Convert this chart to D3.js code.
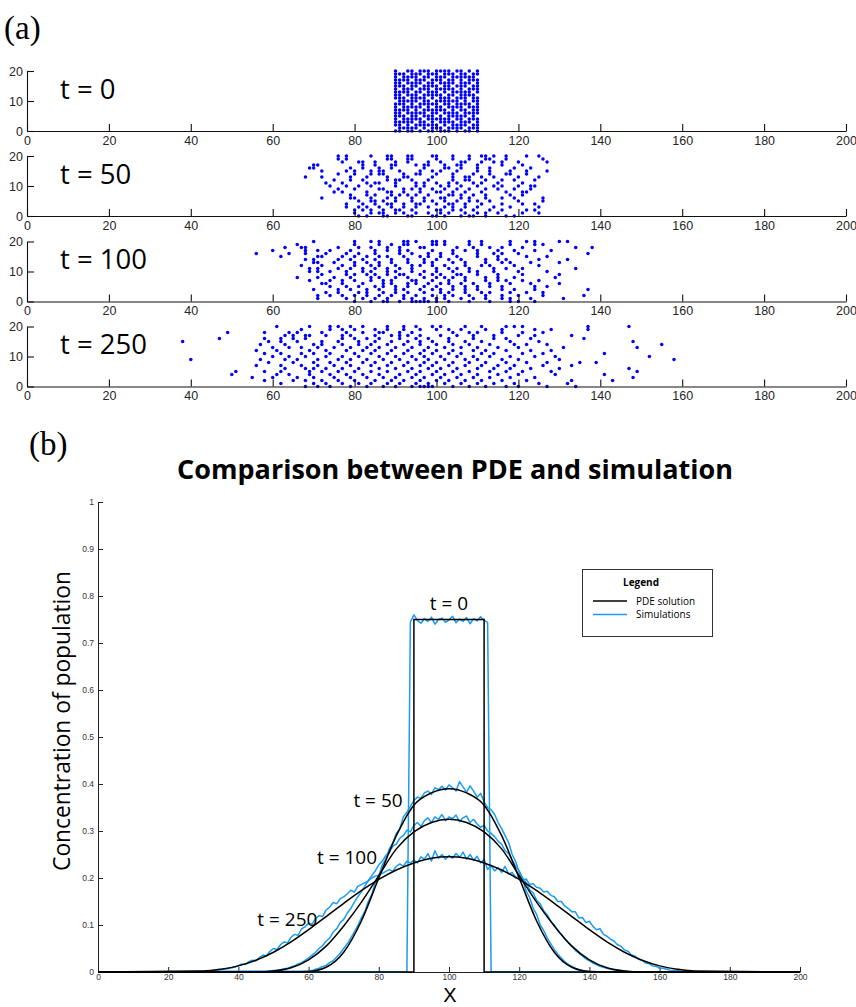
<!DOCTYPE html>
<html><head><meta charset="utf-8">
<script src="https://cdn.jsdelivr.net/npm/d3@7"></script>
<style>body{margin:0;background:#fff} svg{display:block}</style>
</head><body>
<svg id="c" width="856" height="1007"></svg>
<script>
// ---------------- DATA ----------------
const xDomain = [0, 200];
const xTicks = [0, 20, 40, 60, 80, 100, 120, 140, 160, 180, 200];
const yDomainA = [0, 20];
const yTicksA = [0, 10, 20];
const timeLabels = ["t = 0", "t = 50", "t = 100", "t = 250"];

// t = 0 : occupancy of lattice sites x = 90..110, rows listed from y = 20 down to y = 0
const gridStartX = 90;
const dotsT0 = [
  "100110111011110110101","111011101110111011011","101111011011101111110",
  "111101110111011010111","110111101101111011101","111011011110110111011",
  "101110111011111010111","111101101110101111101","110111011111011011110",
  "111011110101110111011","011111011011111101011","111010111110110111101",
  "101111101011011110111","111101011111101011011","110111110110111101111",
  "111011011101011111010","101111101111110110111","111110110101111011101",
  "110101111110101111011","011111010111011110111","110110101101110101101"
];
// t = 50, 100, 250 : x positions of occupied sites, rows from y = 20 down to y = 0
const dotsT50 = [
  [76,78,84,88,89,93,94,99,100,104,108,111,112,114,117,122,125],
  [76,78,88,89,93,94,100,104,108,112,113,117,126],
  [77,81,82,85,90,93,98,101,106,107,111,114,116,120,127],
  [70,71,82,85,89,90,95,97,98,102,105,106,110,116,121],
  [69,70,79,82,86,89,97,102,103,106,110,113,119,123],
  [72,78,80,84,86,87,91,96,99,101,105,110,113,118,122,127],
  [76,80,84,86,87,92,95,96,100,104,109,113,117,118,122],
  [68,72,79,83,88,92,93,99,104,107,108,111,114,120,125],
  [75,79,82,88,90,91,94,98,104,107,108,112,116,119,124],
  [73,77,83,85,86,90,95,97,100,103,105,109,111,115,121],
  [74,78,81,84,90,95,97,101,103,106,110,114,116,120,123,124],
  [76,80,86,87,92,94,96,99,102,105,108,112,115,119,123],
  [75,77,83,88,89,92,96,100,101,104,107,111,117,121,122],
  [79,83,85,89,91,93,95,98,103,104,106,109,112,118,121],
  [72,79,80,84,88,90,94,97,101,102,106,108,112,116,119,126],
  [81,84,85,87,90,94,97,99,102,105,108,110,113,120,126],
  [78,82,85,88,89,92,95,96,100,103,104,107,111,116,121,124],
  [78,81,83,86,89,92,95,98,102,104,107,110,114,118,125],
  [80,82,84,87,90,91,94,100,101,104,106,109,113,116,122,124],
  [80,84,86,87,90,92,95,98,101,103,107,110,112,115,121,125],
  [81,83,87,88,93,94,99,100,102,106,108,109,112,117,119]
];
const dotsT100 = [
  [70,80,84,86,92,93,95,99,100,102,108,111,118,122,124,130,132],
  [66,80,86,89,92,93,99,100,102,108,111,118,124,126],
  [63,67,68,76,81,84,88,91,96,97,105,109,113,116,121,134,138],
  [60,68,71,74,79,85,88,91,93,99,104,107,110,115,119,124,128],
  [56,64,68,73,78,81,85,91,94,98,101,104,110,114,116,120,137],
  [62,71,72,77,80,83,86,88,92,96,98,101,105,110,115,122,127],
  [68,70,76,79,82,85,89,93,97,100,103,106,112,115,117,125,132],
  [70,71,75,80,83,86,89,93,97,99,104,107,112,116,118,123,130],
  [67,72,77,80,84,86,90,94,96,99,102,107,111,113,119,125],
  [69,71,76,79,82,85,88,91,94,100,103,105,108,114,117,121,134],
  [69,71,74,78,82,84,88,90,94,97,100,104,108,110,114,120,127],
  [72,78,80,83,85,88,91,92,96,99,101,105,106,110,115,121,130],
  [66,71,75,79,84,86,90,93,97,100,102,104,107,112,115,119,129],
  [69,74,77,80,84,87,89,94,95,99,103,107,112,115,117,121,125],
  [72,73,77,82,87,89,93,95,98,101,103,106,109,113,118,123,130],
  [74,78,81,85,87,90,93,97,100,104,107,110,113,116,124,127],
  [70,76,79,83,86,90,92,96,99,101,104,107,110,116,119,124,137],
  [73,76,81,83,87,90,93,97,101,103,107,111,113,118,122,126],
  [71,74,77,80,83,86,89,92,95,99,102,104,108,112,116,120,126,136],
  [71,78,82,85,88,92,94,97,100,102,106,109,112,116,118,123,131],
  [80,84,87,88,91,94,95,96,97,98,100,103,108,113,118,120,124]
];
const dotsT250 = [
  [61,69,74,76,79,82,88,92,95,99,101,107,111,117,119,121,137,147],
  [67,74,77,80,85,88,92,96,100,103,106,112,116,124,128,137],
  [49,58,64,66,72,78,82,86,87,91,94,104,108,110,116,121,126],
  [63,65,68,69,73,77,79,85,89,91,93,96,101,105,109,114,120,124,133],
  [47,58,62,65,68,77,80,83,86,91,95,98,103,109,114,117,123,136],
  [38,59,62,66,72,76,81,85,89,93,96,99,103,107,111,118,125,148],
  [57,63,70,72,77,81,84,88,92,96,100,104,108,113,119,122,127,155],
  [60,64,67,71,75,79,83,86,90,94,98,102,106,110,115,120,131,149],
  [56,61,69,73,78,82,85,89,93,97,100,104,109,112,117,123,128],
  [58,62,67,70,74,80,84,88,92,96,99,103,106,111,114,121,126,141],
  [60,64,68,73,77,81,86,90,94,97,101,105,109,113,118,124,129,152],
  [40,57,63,66,71,76,79,83,87,91,95,98,102,107,110,116,120,130,158],
  [59,65,70,74,78,82,85,89,93,97,100,104,108,112,117,122,127,135,139],
  [56,62,67,71,75,79,84,88,92,96,99,103,107,111,115,119,126,133],
  [63,68,70,73,77,81,86,90,94,98,101,105,110,114,118,123,130,147],
  [51,58,62,69,72,76,80,84,88,93,96,100,104,108,113,117,121,128,149],
  [50,61,64,69,74,78,82,86,91,95,99,102,106,110,115,120,129,141],
  [55,60,66,70,75,79,83,87,90,94,97,101,105,109,113,118,124,148],
  [58,65,68,72,76,80,85,89,92,96,100,103,107,111,116,122,133,143],
  [62,70,73,77,81,84,88,91,95,98,102,106,110,114,119,125,132],
  [68,71,74,79,83,87,90,94,96,97,98,99,104,108,112,117,120,127,134]
];

// Panel (b)
const yDomainB = [0, 1];
const yTicksB = [0, 0.1, 0.2, 0.3, 0.4, 0.5, 0.6, 0.7, 0.8, 0.9, 1];
const seriesNames = ["PDE solution", "Simulations"];
const bTitle = "Comparison between PDE and simulation";
const bYLabel = "Concentration of population";
const bXLabel = "X";

// PDE solution, t = 0 (box)
const pde0X = [0, 90, 90, 110, 110, 200];
const pde0Y = [0, 0, 0.75, 0.75, 0, 0];
// PDE solutions t = 50, 100, 250 sampled at pdeX
const pdeX = [0,30,35,40,45,50,55,60,65,70,75,80,85,90,95,100,105,110,115,120,125,130,135,140,145,150,155,160,165,170,200];
const pde50 = [0,0,0,0,0,0,0,0.001,0.010,0.042,0.108,0.200,0.290,0.355,0.381,0.390,0.381,0.355,0.290,0.200,0.108,0.042,0.010,0.001,0,0,0,0,0,0,0];
const pde100 = [0,0,0,0,0,0.002,0.009,0.026,0.055,0.098,0.148,0.205,0.262,0.298,0.318,0.325,0.318,0.298,0.262,0.205,0.148,0.098,0.055,0.026,0.009,0.002,0,0,0,0,0];
const pde250 = [0,0.002,0.006,0.013,0.025,0.042,0.064,0.090,0.118,0.146,0.173,0.197,0.217,0.232,0.242,0.245,0.242,0.232,0.217,0.197,0.173,0.146,0.118,0.090,0.064,0.042,0.025,0.013,0.006,0.002,0];

// Simulations (averaged), one value per integer x starting at simStart; zero elsewhere
const sim0Start = 88;
const sim0 = [0,0.745,0.760,0.748,0.742,0.752,0.746,0.755,0.740,0.750,0.753,0.744,0.749,0.757,0.743,0.751,0.746,0.754,0.741,0.752,0.747,0.756,0.748,0.744,0];
const sim50Start = 60;
const sim50 = [0.002,0.003,0.006,0.008,0.012,0.014,0.020,0.024,0.032,0.040,
  0.050,0.060,0.072,0.085,0.098,0.115,0.128,0.150,0.165,0.190,
  0.205,0.228,0.240,0.262,0.275,0.295,0.305,0.330,0.340,0.352,
  0.365,0.372,0.370,0.381,0.385,0.378,0.392,0.388,0.395,0.387,
  0.398,0.392,0.385,0.405,0.394,0.382,0.396,0.385,0.372,0.380,
  0.362,0.350,0.345,0.335,0.318,0.305,0.290,0.275,0.250,0.235,
  0.212,0.195,0.172,0.158,0.135,0.122,0.100,0.088,0.072,0.060,
  0.048,0.038,0.030,0.022,0.016,0.012,0.008,0.005,0.003,0.002,0.001];
const sim100Start = 48;
const sim100 = [0.001,0.002,0.003,0.004,0.005,0.007,0.008,0.011,0.013,0.017,
  0.020,0.025,0.030,0.036,0.042,0.050,0.056,0.066,0.072,0.085,
  0.092,0.105,0.112,0.125,0.135,0.148,0.160,0.170,0.182,0.195,
  0.205,0.215,0.228,0.236,0.248,0.255,0.268,0.272,0.285,0.290,
  0.302,0.298,0.312,0.318,0.310,0.322,0.328,0.318,0.330,0.325,
  0.335,0.322,0.330,0.326,0.334,0.320,0.328,0.332,0.318,0.325,
  0.315,0.308,0.312,0.300,0.295,0.288,0.278,0.272,0.258,0.252,
  0.238,0.225,0.215,0.200,0.190,0.175,0.168,0.152,0.145,0.130,
  0.122,0.108,0.100,0.088,0.080,0.070,0.062,0.055,0.046,0.040,
  0.034,0.028,0.024,0.019,0.016,0.012,0.010,0.008,0.006,0.005,
  0.004,0.003,0.002,0.001,0.000];
const sim250Start = 30;
const sim250 = [0.001,0.001,0.002,0.003,0.003,0.005,0.006,0.007,0.009,0.010,
  0.014,0.017,0.016,0.022,0.025,0.024,0.031,0.036,0.034,0.044,
  0.050,0.048,0.058,0.064,0.062,0.074,0.080,0.078,0.092,0.096,
  0.104,0.102,0.114,0.120,0.118,0.132,0.138,0.148,0.145,0.156,
  0.160,0.166,0.174,0.170,0.182,0.186,0.190,0.193,0.200,0.204,
  0.206,0.210,0.214,0.218,0.214,0.225,0.230,0.225,0.236,0.232,
  0.238,0.232,0.245,0.240,0.252,0.236,0.258,0.242,0.250,0.240,
  0.248,0.242,0.252,0.244,0.255,0.240,0.250,0.238,0.246,0.232,
  0.240,0.218,0.226,0.215,0.222,0.212,0.225,0.208,0.212,0.200,
  0.205,0.195,0.198,0.186,0.188,0.180,0.178,0.170,0.172,0.163,
  0.160,0.150,0.150,0.140,0.135,0.128,0.128,0.115,0.116,0.105,
  0.108,0.097,0.090,0.092,0.080,0.076,0.070,0.066,0.058,0.055,
  0.047,0.044,0.036,0.034,0.027,0.025,0.019,0.018,0.013,0.012,
  0.008,0.008,0.006,0.004,0.003,0.003,0.002,0.001,0.001,0.000,0.000];

// ---------------- DRAW ----------------
const svg = d3.select("#c");

function fitFont(sel, target, start) {
  sel.style("font-size", start + "px");
  const w = sel.node().getComputedTextLength();
  sel.style("font-size", (start * target / w) + "px");
}

// ---- Panel (a)
svg.append("text").attr("x", 4).attr("y", 39)
  .style("font-family", "'Liberation Serif', 'DejaVu Serif', serif").style("font-size", "33px")
  .text("(a)");

const xA = d3.scaleLinear().domain(xDomain).range([27, 846]);
const rowTops = [71, 156, 241.5, 326.5];
const rowH = 60;

function toPoints(rows) {
  const pts = [];
  rows.forEach((r, i) => {
    const y = 20 - i;
    if (typeof r === "string") {
      for (let k = 0; k < r.length; k++) if (r[k] === "1") pts.push([gridStartX + k, y]);
    } else r.forEach(x => pts.push([x, y]));
  });
  return pts;
}
const rowsData = [dotsT0, dotsT50, dotsT100, dotsT250].map(toPoints);

rowsData.forEach((pts, i) => {
  const top = rowTops[i];
  const yA = d3.scaleLinear().domain(yDomainA).range([top + rowH, top]);
  const g = svg.append("g");
  g.selectAll("circle").data(pts).join("circle")
    .attr("cx", d => xA(d[0])).attr("cy", d => yA(d[1])).attr("r", 1.75)
    .attr("fill", "#0000ff");
  const ax = g.append("g").attr("transform", `translate(0,${top + rowH})`)
    .call(d3.axisBottom(xA).tickValues(xTicks).tickSize(-7).tickSizeOuter(0).tickPadding(5));
  const ay = g.append("g").attr("transform", `translate(${xA(0)},0)`)
    .call(d3.axisLeft(yA).tickValues(yTicksA).tickSize(-7).tickSizeOuter(0).tickPadding(4));
  [ax, ay].forEach(a => {
    a.selectAll("text").style("font-family", "'Liberation Sans', Arial, sans-serif")
      .style("font-size", "12.5px").attr("fill", "#262626");
    a.selectAll("line,path").attr("stroke", "#111").attr("stroke-width", 1.1);
  });
  g.append("text").attr("x", 60).attr("y", top + 27.5)
    .style("font-family", "'Open Sans', sans-serif").style("font-size", "27.5px")
    .attr("fill", "#000").text(timeLabels[i]);
});

// ---- Panel (b)
svg.append("text").attr("x", 29).attr("y", 455)
  .style("font-family", "'Liberation Serif', 'DejaVu Serif', serif").style("font-size", "33px")
  .text("(b)");

const xB = d3.scaleLinear().domain(xDomain).range([98, 800]);
const yB = d3.scaleLinear().domain(yDomainB).range([972, 502]);

const title = svg.append("text").attr("x", 455).attr("y", 479).attr("text-anchor", "middle")
  .style("font-family", "'Open Sans', sans-serif").style("font-weight", "bold").text(bTitle);
fitFont(title, 556, 22);

const ylab = svg.append("text").attr("transform", "translate(70,721) rotate(-90)").attr("text-anchor", "middle")
  .style("font-family", "'Open Sans', sans-serif").text(bYLabel);
fitFont(ylab, 300, 22);

svg.append("text").attr("x", 450).attr("y", 1002).attr("text-anchor", "middle")
  .style("font-family", "'Liberation Sans', Arial, sans-serif").style("font-size", "20px").text(bXLabel);

const axB = svg.append("g").attr("transform", `translate(0,${yB(0)})`)
  .call(d3.axisBottom(xB).tickValues(xTicks).tickSize(-5).tickSizeOuter(0).tickPadding(2));
const ayB = svg.append("g").attr("transform", `translate(${xB(0)},0)`)
  .call(d3.axisLeft(yB).tickValues(yTicksB).tickSize(-5).tickSizeOuter(0).tickPadding(4)
    .tickFormat(d => String(+d.toFixed(1))));
[axB, ayB].forEach(a => {
  a.selectAll("text").style("font-family", "'Liberation Sans', Arial, sans-serif")
    .style("font-size", "8.5px").attr("fill", "#333");
  a.selectAll("line,path").attr("stroke", "#222").attr("stroke-width", 1);
});

const blue = "#1a9cf2";
const line = d3.line().x(d => xB(d[0])).y(d => yB(d[1]));
const smooth = d3.line().x(d => xB(d[0])).y(d => yB(d[1])).curve(d3.curveMonotoneX);

function simPoints(start, vals) {
  const pts = [[xDomain[0], 0]];
  vals.forEach((v, i) => pts.push([start + i, v]));
  pts.push([xDomain[1], 0]);
  return pts;
}
const sims = [[sim0Start, sim0], [sim50Start, sim50], [sim100Start, sim100], [sim250Start, sim250]];
sims.forEach(([s, v]) => {
  svg.append("path").attr("d", line(simPoints(s, v))).attr("fill", "none")
    .attr("stroke", blue).attr("stroke-width", 1.5).attr("stroke-linejoin", "round");
});

svg.append("path").attr("d", line(pde0X.map((x, i) => [x, pde0Y[i]]))).attr("fill", "none")
  .attr("stroke", "#000").attr("stroke-width", 1.5);
[pde50, pde100, pde250].forEach(arr => {
  svg.append("path").attr("d", smooth(pdeX.map((x, i) => [x, arr[i]]))).attr("fill", "none")
    .attr("stroke", "#000").attr("stroke-width", 1.5);
});

// curve annotations (data coordinates)
const annB = [
  {t: "t = 0", x: 100, y: 0.785, a: "middle"},
  {t: "t = 50", x: 86.8, y: 0.366, a: "end"},
  {t: "t = 100", x: 79.5, y: 0.245, a: "end"},
  {t: "t = 250", x: 62.5, y: 0.113, a: "end"}
];
svg.selectAll(".ann").data(annB).join("text").attr("class", "ann")
  .attr("x", d => xB(d.x)).attr("y", d => yB(d.y)).attr("dy", "0.35em")
  .attr("text-anchor", d => d.a)
  .style("font-family", "'Open Sans', sans-serif").style("font-size", "19px").text(d => d.t);

// legend
const lg = svg.append("g");
lg.append("rect").attr("x", 582.5).attr("y", 569.5).attr("width", 130).attr("height", 67)
  .attr("fill", "#fff").attr("stroke", "#333").attr("stroke-width", 1);
lg.append("text").attr("x", 641).attr("y", 586).attr("text-anchor", "middle")
  .style("font-family", "'Open Sans', sans-serif").style("font-weight", "bold").style("font-size", "10px").text("Legend");
[["#000", seriesNames[0]], [blue, seriesNames[1]]].forEach(([c, n], i) => {
  const y = 601 + i * 13.5;
  lg.append("line").attr("x1", 593).attr("x2", 627).attr("y1", y).attr("y2", y)
    .attr("stroke", c).attr("stroke-width", 1.6);
  lg.append("text").attr("x", 636).attr("y", y).attr("dy", "0.35em")
    .style("font-family", "'Open Sans', sans-serif").style("font-size", "10px").text(n);
});
</script></body></html>
